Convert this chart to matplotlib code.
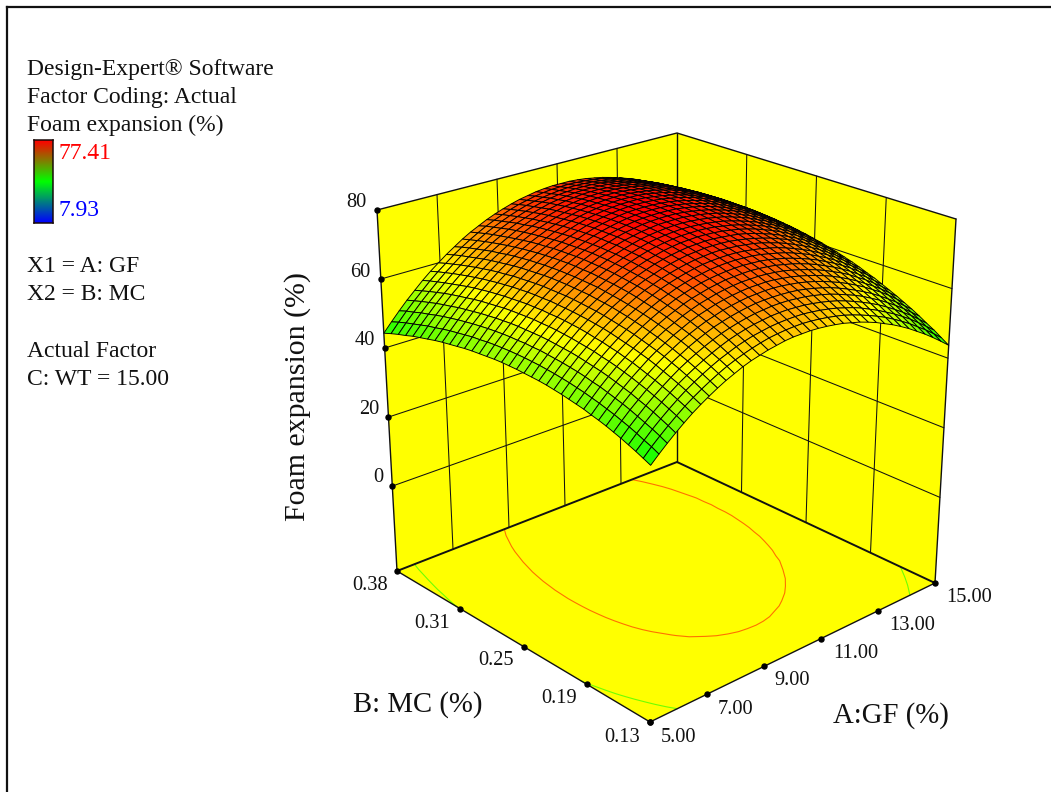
import numpy as np
import matplotlib
matplotlib.use("Agg")
import matplotlib.pyplot as plt
from matplotlib.collections import PolyCollection
from matplotlib.colors import LinearSegmentedColormap

W, H = 1051, 792
plt.rcParams['font.family'] = ['Liberation Serif', 'DejaVu Serif']

A_TICKS = [5.0, 7.0, 9.0, 11.0, 13.0, 15.0]
A_LABELS = ['5.00', '7.00', '9.00', '11.00', '13.00', '15.00']
B_TICKS = [0.13, 0.1925, 0.255, 0.3175, 0.38]
B_LABELS = ['0.13', '0.19', '0.25', '0.31', '0.38']
Z_TICKS = [0, 20, 40, 60, 80]
Z_FLOOR = -24.6
Z_MIN, Z_MAX = 7.93, 77.41
CONTOUR_LEVELS = [50.0, 69.6]

a_nodes = np.linspace(5, 15, 37)
b_nodes = np.linspace(0.13, 0.38, 37)
# Heights (surface outline, colours and floor contours).
# Rows: B from 0.13 to 0.38. Columns: A from 5 to 15.
Z = np.array([
[43.2,45.3,47.3,49.2,51.0,52.7,54.2,55.6,56.9,58.1,59.1,60.1,60.9,61.5,62.1,62.5,62.9,63.1,63.1,63.1,62.9,62.6,62.2,61.7,61.0,60.3,59.4,58.4,57.2,56.0,54.6,53.1,51.4,49.7,47.8,45.8,43.7],
[44.1,46.3,48.3,50.2,52.0,53.7,55.2,56.6,57.9,59.1,60.2,61.1,61.9,62.6,63.2,63.7,64.0,64.2,64.3,64.3,64.1,63.8,63.4,62.9,62.3,61.5,60.6,59.6,58.5,57.3,55.9,54.4,52.8,51.0,49.2,47.2,45.1],
[45.0,47.1,49.2,51.1,52.9,54.6,56.2,57.6,58.9,60.1,61.2,62.1,63.0,63.7,64.3,64.7,65.1,65.3,65.4,65.4,65.3,65.0,64.6,64.1,63.5,62.7,61.9,60.9,59.7,58.5,57.1,55.7,54.1,52.4,50.5,48.5,46.5],
[45.8,48.0,50.0,52.0,53.8,55.5,57.1,58.5,59.8,61.0,62.1,63.1,64.0,64.7,65.3,65.8,66.1,66.4,66.5,66.5,66.3,66.1,65.7,65.2,64.6,63.9,63.0,62.0,60.9,59.7,58.4,56.9,55.3,53.6,51.8,49.8,47.7],
[46.6,48.8,50.8,52.8,54.6,56.3,57.9,59.4,60.7,61.9,63.0,64.0,64.9,65.6,66.2,66.7,67.1,67.3,67.5,67.5,67.4,67.1,66.8,66.3,65.7,65.0,64.1,63.1,62.1,60.9,59.5,58.1,56.5,54.8,53.0,51.0,49.0],
[47.3,49.5,51.6,53.5,55.4,57.1,58.7,60.2,61.5,62.8,63.9,64.9,65.8,66.5,67.1,67.6,68.0,68.3,68.4,68.4,68.3,68.1,67.8,67.3,66.7,66.0,65.2,64.2,63.1,61.9,60.6,59.2,57.6,55.9,54.1,52.2,50.2],
[48.0,50.2,52.3,54.3,56.1,57.8,59.5,61.0,62.3,63.6,64.7,65.7,66.6,67.3,68.0,68.5,68.9,69.2,69.3,69.4,69.3,69.1,68.7,68.3,67.7,67.0,66.2,65.2,64.2,63.0,61.7,60.3,58.7,57.1,55.3,53.3,51.3],
[48.6,50.8,52.9,54.9,56.8,58.5,60.2,61.7,63.0,64.3,65.4,66.5,67.4,68.1,68.8,69.3,69.7,70.0,70.2,70.2,70.2,70.0,69.6,69.2,68.6,67.9,67.1,66.2,65.2,64.0,62.7,61.3,59.7,58.1,56.3,54.4,52.4],
[49.1,51.4,53.5,55.5,57.4,59.2,60.8,62.3,63.7,65.0,66.1,67.2,68.1,68.9,69.5,70.1,70.5,70.8,71.0,71.0,71.0,70.8,70.5,70.1,69.5,68.8,68.0,67.1,66.1,64.9,63.7,62.3,60.7,59.1,57.3,55.4,53.4],
[49.7,51.9,54.1,56.1,58.0,59.7,61.4,62.9,64.3,65.6,66.8,67.8,68.8,69.6,70.2,70.8,71.2,71.6,71.7,71.8,71.8,71.6,71.3,70.9,70.3,69.7,68.9,68.0,67.0,65.8,64.6,63.2,61.7,60.0,58.3,56.4,54.4],
[50.1,52.4,54.5,56.6,58.5,60.3,61.9,63.5,64.9,66.2,67.4,68.4,69.4,70.2,70.9,71.5,71.9,72.2,72.4,72.5,72.5,72.3,72.1,71.7,71.1,70.5,69.7,68.8,67.8,66.7,65.4,64.1,62.6,61.0,59.2,57.4,55.4],
[50.5,52.8,55.0,57.0,58.9,60.7,62.4,64.0,65.4,66.7,67.9,69.0,69.9,70.8,71.5,72.1,72.5,72.9,73.1,73.2,73.2,73.0,72.8,72.4,71.8,71.2,70.5,69.6,68.6,67.5,66.2,64.9,63.4,61.8,60.1,58.2,56.2],
[50.9,53.2,55.4,57.4,59.4,61.2,62.9,64.4,65.9,67.2,68.4,69.5,70.5,71.3,72.0,72.6,73.1,73.5,73.7,73.8,73.8,73.7,73.4,73.0,72.5,71.9,71.2,70.3,69.3,68.2,67.0,65.6,64.2,62.6,60.9,59.0,57.1],
[51.2,53.5,55.7,57.8,59.7,61.5,63.3,64.8,66.3,67.6,68.9,70.0,70.9,71.8,72.5,73.1,73.6,74.0,74.2,74.4,74.4,74.2,74.0,73.6,73.2,72.6,71.8,71.0,70.0,68.9,67.7,66.4,64.9,63.3,61.6,59.8,57.9],
[51.5,53.8,56.0,58.1,60.0,61.9,63.6,65.2,66.7,68.0,69.3,70.4,71.4,72.2,73.0,73.6,74.1,74.5,74.7,74.9,74.9,74.8,74.6,74.2,73.7,73.1,72.4,71.6,70.6,69.6,68.4,67.0,65.6,64.0,62.3,60.5,58.6],
[51.7,54.0,56.2,58.3,60.3,62.2,63.9,65.5,67.0,68.3,69.6,70.7,71.7,72.6,73.4,74.0,74.5,74.9,75.2,75.3,75.4,75.3,75.0,74.7,74.3,73.7,73.0,72.1,71.2,70.1,68.9,67.6,66.2,64.7,63.0,61.2,59.3],
[51.8,54.2,56.4,58.5,60.5,62.4,64.1,65.7,67.2,68.6,69.9,71.0,72.0,72.9,73.7,74.3,74.9,75.3,75.6,75.7,75.8,75.7,75.5,75.2,74.7,74.2,73.5,72.7,71.7,70.7,69.5,68.2,66.8,65.2,63.6,61.8,59.9],
[51.9,54.3,56.6,58.7,60.7,62.6,64.3,65.9,67.5,68.9,70.1,71.3,72.3,73.2,74.0,74.7,75.2,75.6,75.9,76.1,76.1,76.1,75.9,75.6,75.1,74.6,73.9,73.1,72.2,71.2,70.0,68.7,67.3,65.8,64.1,62.4,60.5],
[52.0,54.4,56.6,58.8,60.8,62.7,64.4,66.1,67.6,69.0,70.3,71.5,72.5,73.4,74.2,74.9,75.5,75.9,76.2,76.4,76.5,76.4,76.2,75.9,75.5,75.0,74.3,73.5,72.6,71.6,70.4,69.2,67.8,66.3,64.6,62.9,61.0],
[52.0,54.4,56.7,58.8,60.8,62.7,64.5,66.2,67.7,69.1,70.5,71.6,72.7,73.6,74.4,75.1,75.7,76.1,76.4,76.6,76.7,76.7,76.5,76.2,75.8,75.3,74.7,73.9,73.0,72.0,70.8,69.6,68.2,66.7,65.1,63.3,61.5],
[52.0,54.4,56.6,58.8,60.9,62.8,64.6,66.2,67.8,69.2,70.5,71.7,72.8,73.7,74.6,75.3,75.8,76.3,76.6,76.9,76.9,76.9,76.8,76.5,76.1,75.6,75.0,74.2,73.3,72.3,71.2,69.9,68.6,67.1,65.5,63.8,61.9],
[51.9,54.3,56.6,58.8,60.8,62.7,64.5,66.2,67.8,69.2,70.6,71.8,72.9,73.8,74.6,75.4,76.0,76.4,76.8,77.0,77.1,77.1,77.0,76.7,76.3,75.8,75.2,74.4,73.6,72.6,71.5,70.3,68.9,67.4,65.8,64.1,62.3],
[51.7,54.2,56.5,58.7,60.7,62.7,64.5,66.2,67.8,69.2,70.6,71.8,72.9,73.8,74.7,75.4,76.0,76.5,76.9,77.1,77.2,77.2,77.1,76.9,76.5,76.0,75.4,74.7,73.8,72.8,71.7,70.5,69.2,67.7,66.1,64.4,62.6],
[51.5,54.0,56.3,58.5,60.6,62.5,64.4,66.1,67.7,69.1,70.5,71.7,72.8,73.8,74.7,75.4,76.0,76.5,76.9,77.2,77.3,77.3,77.2,77.0,76.6,76.1,75.5,74.8,74.0,73.0,71.9,70.7,69.4,68.0,66.4,64.7,62.9],
[51.3,53.7,56.1,58.3,60.4,62.3,64.2,65.9,67.5,69.0,70.4,71.6,72.7,73.7,74.6,75.4,76.0,76.5,76.9,77.2,77.3,77.3,77.2,77.0,76.7,76.2,75.6,74.9,74.1,73.1,72.1,70.9,69.6,68.1,66.6,64.9,63.1],
[51.0,53.5,55.8,58.0,60.1,62.1,64.0,65.7,67.3,68.8,70.2,71.5,72.6,73.6,74.5,75.3,75.9,76.4,76.8,77.1,77.3,77.3,77.2,77.0,76.7,76.2,75.7,75.0,74.2,73.2,72.2,71.0,69.7,68.3,66.7,65.1,63.3],
[50.6,53.1,55.5,57.7,59.8,61.8,63.7,65.5,67.1,68.6,70.0,71.2,72.4,73.4,74.3,75.1,75.8,76.3,76.7,77.0,77.2,77.2,77.2,77.0,76.6,76.2,75.6,75.0,74.2,73.2,72.2,71.0,69.7,68.3,66.8,65.2,63.4],
[50.2,52.7,55.1,57.3,59.5,61.5,63.4,65.1,66.8,68.3,69.7,71.0,72.1,73.2,74.1,74.9,75.6,76.1,76.5,76.8,77.0,77.1,77.0,76.9,76.6,76.1,75.6,74.9,74.1,73.2,72.2,71.0,69.8,68.4,66.9,65.2,63.5],
[49.8,52.3,54.7,56.9,59.1,61.1,63.0,64.8,66.4,68.0,69.4,70.7,71.8,72.9,73.8,74.6,75.3,75.9,76.3,76.6,76.8,76.9,76.9,76.7,76.4,76.0,75.5,74.8,74.1,73.2,72.1,71.0,69.7,68.4,66.9,65.2,63.5],
[49.3,51.8,54.2,56.5,58.6,60.7,62.6,64.4,66.0,67.6,69.0,70.3,71.5,72.6,73.5,74.3,75.0,75.6,76.1,76.4,76.6,76.7,76.7,76.5,76.2,75.8,75.3,74.7,73.9,73.0,72.0,70.9,69.7,68.3,66.8,65.2,63.4],
[48.7,51.2,53.7,55.9,58.1,60.2,62.1,63.9,65.6,67.1,68.6,69.9,71.1,72.2,73.1,74.0,74.7,75.3,75.7,76.1,76.3,76.4,76.4,76.3,76.0,75.6,75.1,74.5,73.7,72.9,71.9,70.7,69.5,68.2,66.7,65.1,63.4],
[48.1,50.7,53.1,55.4,57.6,59.6,61.6,63.4,65.1,66.7,68.1,69.4,70.7,71.7,72.7,73.6,74.3,74.9,75.4,75.7,76.0,76.1,76.1,75.9,75.7,75.3,74.8,74.2,73.5,72.6,71.6,70.5,69.3,68.0,66.5,64.9,63.2],
[47.5,50.0,52.4,54.8,57.0,59.0,61.0,62.8,64.5,66.1,67.6,68.9,70.2,71.3,72.2,73.1,73.8,74.5,74.9,75.3,75.6,75.7,75.7,75.6,75.4,75.0,74.5,73.9,73.2,72.3,71.4,70.3,69.1,67.8,66.3,64.7,63.0],
[46.7,49.3,51.8,54.1,56.3,58.4,60.4,62.2,63.9,65.5,67.0,68.4,69.6,70.7,71.7,72.6,73.3,74.0,74.5,74.9,75.1,75.3,75.3,75.2,75.0,74.6,74.1,73.5,72.8,72.0,71.1,70.0,68.8,67.5,66.0,64.5,62.8],
[46.0,48.6,51.0,53.4,55.6,57.7,59.7,61.5,63.3,64.9,66.4,67.8,69.0,70.1,71.1,72.0,72.8,73.4,73.9,74.3,74.6,74.8,74.8,74.7,74.5,74.2,73.7,73.1,72.5,71.6,70.7,69.6,68.5,67.2,65.7,64.2,62.5],
[45.2,47.8,50.3,52.6,54.8,57.0,59.0,60.8,62.6,64.2,65.7,67.1,68.4,69.5,70.5,71.4,72.2,72.8,73.4,73.8,74.1,74.2,74.3,74.2,74.0,73.7,73.3,72.7,72.0,71.2,70.3,69.2,68.1,66.8,65.4,63.8,62.2],
[44.3,46.9,49.4,51.8,54.0,56.2,58.2,60.0,61.8,63.4,65.0,66.4,67.6,68.8,69.8,70.7,71.5,72.2,72.7,73.2,73.5,73.7,73.7,73.7,73.5,73.2,72.7,72.2,71.5,70.7,69.8,68.8,67.6,66.3,64.9,63.4,61.8],
])

A0, A1, B0, B1, Z1 = A_TICKS[0], A_TICKS[-1], B_TICKS[0], B_TICKS[-1], Z_TICKS[-1]

# where the eight corners of the plot box sit on the page: [A index][B index][z index]
BOX = np.array([[[(650, 722), (651, 326)], [(397, 571), (377, 210)]],
                [[(935, 583), (956, 219)], [(677, 462), (677, 133)]]], float)

def project(a, b, z):
    """Trilinear box projection used by the chart: equal steps on every box edge."""
    a, b, z = np.broadcast_arrays(np.asarray(a, float), np.asarray(b, float), np.asarray(z, float))
    u = (a - A0)/(A1 - A0)
    v = (b - B0)/(B1 - B0)
    w = (z - Z_FLOOR)/(Z1 - Z_FLOOR)
    out = 0
    for i, ui in enumerate([1 - u, u]):
        for j, vj in enumerate([1 - v, v]):
            for k, wk in enumerate([1 - w, w]):
                out = out + (ui*vj*wk)[..., None]*BOX[i, j, k]
    return out

fig = plt.figure(figsize=(W/100, H/100), dpi=100)
ax = fig.add_axes([0, 0, 1, 1])
ax.set_xlim(0, W); ax.set_ylim(H, 0); ax.axis('off')

def face(a, b, z):
    ax.add_patch(plt.Polygon(project(a, b, z), closed=True, fc='#ffff00', ec='none', zorder=1))

def line(a, b, z, lw=0.75, zorder=2):
    p = project(a, b, z)
    ax.plot(p[:, 0], p[:, 1], color='#111111', lw=lw, zorder=zorder, solid_capstyle='round')

F = Z_FLOOR
face([A0, A1, A1, A0], [B0, B0, B1, B1], [F, F, F, F])
face([A0, A1, A1, A0], [B1, B1, B1, B1], [F, F, Z1, Z1])
face([A1, A1, A1, A1], [B0, B1, B1, B0], [F, F, Z1, Z1])

for t in A_TICKS[1:-1]:
    line([t, t], B1, [F, Z1])
for t in B_TICKS[1:-1]:
    line(A1, [t, t], [F, Z1])
for t in Z_TICKS[:-1]:
    line([A0, A1], B1, [t, t])
    line(A1, [B1, B0], [t, t])
line([A0, A1, A1], [B1, B1, B0], [Z1, Z1, Z1], 1.0)
line(A0, B1, [F, Z1], 1.0)
line(A1, B0, [F, Z1], 1.0)
line(A1, B1, [F, Z1], 1.0)
line([A0, A1, A1], [B1, B1, B0], [F, F, F], 1.4, 4)
line([A1, A0, A0], [B0, B0, B1], [F, F, F], 1.0, 4)

cmap = LinearSegmentedColormap.from_list('de', [(0, '#0000ff'), (.25, '#00ffff'), (.5, '#00ff00'), (.75, '#ffff00'), (1, '#ff0000')])
norm = lambda v: (np.asarray(v) - Z_MIN)/(Z_MAX - Z_MIN)
AA, BB = np.meshgrid(a_nodes, b_nodes)

# floor contours of the surface, found by the library on the table of heights
probe = plt.figure().add_subplot()
cs = probe.contour(AA, BB, Z, levels=CONTOUR_LEVELS)
for lev, segs in zip(CONTOUR_LEVELS, cs.allsegs):
    for seg in segs:
        p = project(seg[:, 0], seg[:, 1], F)
        ax.plot(p[:, 0], p[:, 1], color=cmap(norm(lev)), lw=0.8, zorder=3)
plt.close(probe.figure)

S = project(AA, BB, Z)
cells, cols, depth = [], [], []
for j in range(len(b_nodes) - 1):
    for i in range(len(a_nodes) - 1):
        cells.append([S[j, i], S[j, i + 1], S[j + 1, i + 1], S[j + 1, i]])
        cols.append(cmap(norm(Z[j:j + 2, i:i + 2].mean())))
        depth.append(i + j)
order = np.argsort(depth)[::-1]
ax.add_collection(PolyCollection([cells[n] for n in order], facecolors=[cols[n] for n in order], edgecolors='k', linewidths=0.66, zorder=5))

for aa, bb, zz in [(A_TICKS, B0, F), (A0, B_TICKS, F), (A0, B1, Z_TICKS)]:
    p = project(aa, bb, zz)
    ax.plot(p[:, 0], p[:, 1], 'o', color='k', ms=3.6, zorder=6)

def px(x, y):
    return x/W, 1 - y/H

fig.add_artist(plt.Line2D([7/W, 7/W], [0, 1 - 7/H], color='#111111', lw=1.6))
fig.add_artist(plt.Line2D([7/W, 1], [1 - 7/H, 1 - 7/H], color='#111111', lw=1.6))

def note(x, y, s, size=17.0, color='#111111'):
    fig.text(*px(x, y), s, fontsize=size, color=color, va='baseline', ha='left')

for y, s in [(75, 'Design-Expert® Software'), (103, 'Factor Coding: Actual'), (131, 'Foam expansion (%)'),
             (272, 'X1 = A: GF'), (300, 'X2 = B: MC'), (357, 'Actual Factor'), (385, 'C: WT = 15.00')]:
    note(27, y, s)
note(59, 159, '77.41', color='#ff0000')
note(59, 216, '7.93', color='#0000ff')

bar = fig.add_axes([34/W, 1 - 223/H, 19/W, 83/H])
bar.imshow(np.linspace(1, 0, 84)[:, None], aspect='auto', cmap=LinearSegmentedColormap.from_list('bar', ['#0000ff', '#00ff00', '#ff0000']))
bar.set_xticks([]); bar.set_yticks([])
for s in bar.spines.values():
    s.set_linewidth(1.1); s.set_color('#1a0a0a')

def tick(cx, cy, s):
    fig.text(*px(cx, cy), s, fontsize=14.7, color='#111111', ha='center', va='center_baseline')

for s, cx, cy in zip(A_LABELS, [679, 735.5, 792.5, 855.5, 912.5, 969.5], [735, 707, 678, 651, 623, 595]):
    tick(cx, cy, s)
for s, cx, cy in zip(B_LABELS, [622, 559.5, 496, 432, 370], [735, 696, 658, 621, 583]):
    tick(cx, cy, s)
for s, cx, cy in zip(Z_TICKS, [378, 369, 365, 360, 356], [475, 407, 338, 270, 200]):
    tick(cx, cy, str(s))

note(353, 712, 'B: MC (%)', size=20.7)
note(833, 723, 'A:GF (%)', size=20.7)
fig.text(*px(298, 396.5), 'Foam expansion (%)', fontsize=21.5, color='#111111', rotation=90, ha='center', va='center', rotation_mode='anchor')

fig.savefig('out.png', dpi=100)
